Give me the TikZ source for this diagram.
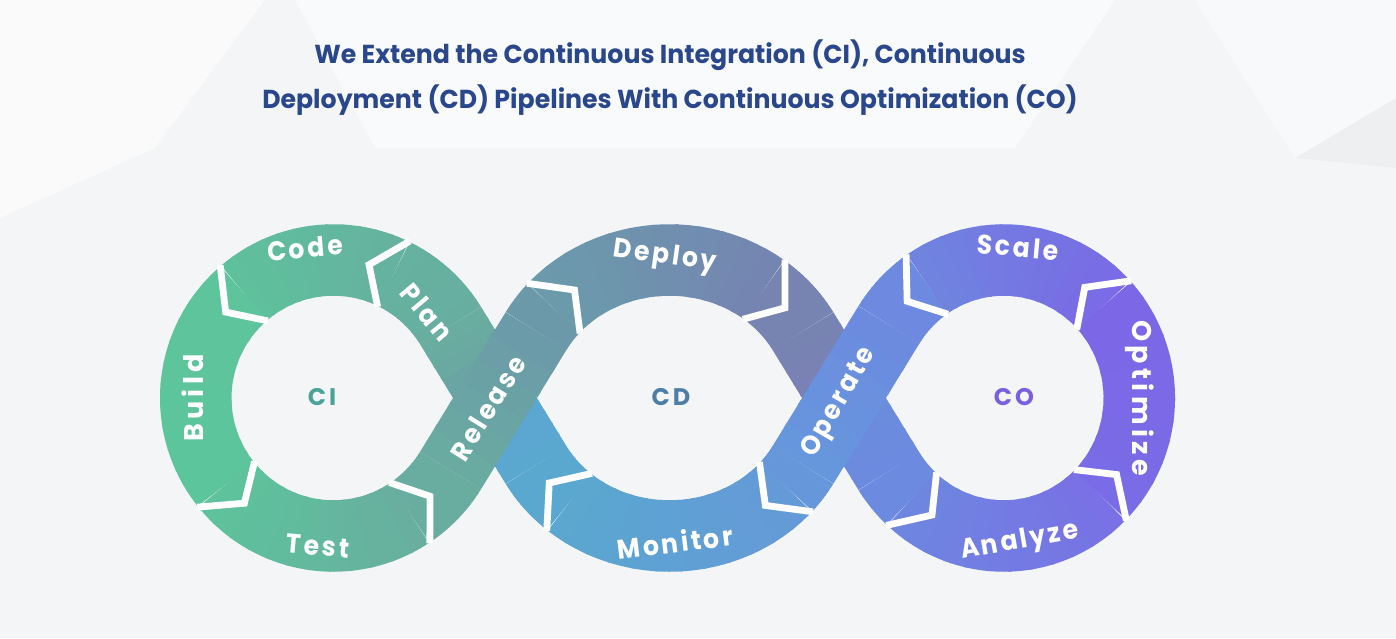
\documentclass[tikz,border=0pt]{standalone}
\usepackage{fontspec}
\setmainfont{Lato}
\newfontfamily\titlefont{Poppins}[FakeStretch=0.97]
\newfontfamily\labelfont{Poppins}[FakeStretch=0.93,LetterSpace=10]
\newfontfamily\labelfontv{Poppins}[LetterSpace=16]
\newfontfamily\hubfont{Poppins}[LetterSpace=12]
\definecolor{bgc}{HTML}{F4F5F7}
\definecolor{titleC}{HTML}{29478A}
\definecolor{ciC}{HTML}{4AA396}
\definecolor{cdC}{HTML}{4E7EA5}
\definecolor{coC}{HTML}{7A5FE0}
\definecolor{planA}{HTML}{6E9FA6}\definecolor{planB}{HTML}{67AEA0}
\definecolor{codeA}{HTML}{66B1A0}\definecolor{codeB}{HTML}{5EC19C}
\definecolor{buildA}{HTML}{5DC49C}\definecolor{buildB}{HTML}{5CC59B}
\definecolor{testA}{HTML}{5DC49C}\definecolor{testB}{HTML}{68AE9F}
\definecolor{relA}{HTML}{69ACA0}\definecolor{relB}{HTML}{6B99A9}
\definecolor{depA}{HTML}{6A9CAA}\definecolor{depB}{HTML}{7584B2}
\definecolor{darkA}{HTML}{7784B2}\definecolor{darkB}{HTML}{7C7EB5}
\definecolor{dkbA}{HTML}{6A8EDC}\definecolor{dkbB}{HTML}{6C8ADF}
\definecolor{anA}{HTML}{6E87E0}\definecolor{anB}{HTML}{7970E5}
\definecolor{optA}{HTML}{7A6BE6}\definecolor{optB}{HTML}{7C67E7}
\definecolor{scA}{HTML}{7B6AE6}\definecolor{scB}{HTML}{6F84DF}
\definecolor{opA}{HTML}{6D8AE0}\definecolor{opB}{HTML}{6597DA}
\definecolor{monA}{HTML}{6599D8}\definecolor{monB}{HTML}{5AA7D0}
\definecolor{linkA}{HTML}{5AA7D0}\definecolor{linkB}{HTML}{5CA6D2}
\def\nseg{12}
% band along ellipse (#1,0),#2,#3 from angle #4 to #5, colour #6 to #7
\newcommand{\arcband}[7]{%
  \foreach \i in {1,...,\nseg}{%
    \pgfmathsetmacro{\ta}{#4+(#5-#4)*(\i-1)/\nseg}%
    \pgfmathsetmacro{\tb}{#4+(#5-#4)*min(\i+0.2,\nseg)/\nseg}%
    \pgfmathtruncatemacro{\pc}{100-100*(\i-0.5)/\nseg}%
    \draw[band,#6!\pc!#7] plot[domain=\ta:\tb,samples=5,variable=\t]({#1+#2*cos(\t)},{#3*sin(\t)});}}
% straight band from (#1,#2) to (#3,#4)
\newcommand{\lineband}[6]{%
  \foreach \i in {1,...,6}{%
    \pgfmathsetmacro{\sa}{(\i-1)/6}%
    \pgfmathsetmacro{\sb}{min(\i+0.2,6)/6}%
    \pgfmathtruncatemacro{\pc}{100-100*(\i-0.5)/6}%
    \draw[band,#5!\pc!#6] ({#1+(#3-#1)*\sa},{#2+(#4-#2)*\sa}) -- ({#1+(#3-#1)*\sb},{#2+(#4-#2)*\sb});}}
% chevron cut at angle #4, tip turned by #5
\newcommand{\cut}[5]{%
  \pgfmathsetmacro{\na}{atan2(#2*sin(#4),#3*cos(#4))}%
  \pgfmathsetmacro{\qx}{#1+#2*cos(#4)}\pgfmathsetmacro{\qy}{#3*sin(#4)}%
  \draw[gap] ({\qx+36.6*cos(\na)},{\qy+36.6*sin(\na)}) -- ({#1+#2*cos(#4+(#5))},{#3*sin(#4+(#5))}) -- ({\qx-36.6*cos(\na)},{\qy-36.6*sin(\na)});}
\begin{document}
\begin{tikzpicture}[x=0.5pt,y=0.5pt,
  band/.style={line width=35.75pt,line cap=butt},
  gap/.style={draw=white,line width=3.4pt,miter limit=10},
  lab/.style={text=white,font=\labelfont\bfseries\fontsize{13.5}{14}\selectfont,inner sep=0pt},
  labv/.style={text=white,font=\labelfontv\bfseries\fontsize{13.5}{14}\selectfont,inner sep=0pt},
  hub/.style={font=\hubfont\bfseries\fontsize{12}{12}\selectfont,inner sep=0pt},
  heading/.style={text=titleC,font=\titlefont\bfseries\fontsize{13}{22.5}\selectfont,align=center}]
\useasboundingbox (-495,-240) rectangle (901,398);
\fill[bgc] (-495,-240) rectangle (901,398);
% faint facets of the backdrop
\fill[white,opacity=.55] (-495,398) -- (-230,398) -- (-340,250) -- (-495,180) -- cycle;
\fill[white,opacity=.5] (-200,398) -- (620,398) -- (520,250) -- (-120,250) -- cycle;
\fill[white,opacity=.45] (700,398) -- (901,398) -- (901,300) -- (800,240) -- cycle;
\fill[black,opacity=.025] (800,240) -- (901,300) -- (901,230) -- cycle;
% strands that run under the crossings
\arcband{174.5}{152.6}{138}{229}{209.02}{linkA}{linkA}
\lineband{41.05}{-66.94}{0}{0}{linkA}{linkB}
\lineband{0}{0}{-44.35}{72.30}{planA}{planB}
\arcband{-161.6}{137.65}{138}{31.59}{64}{planB}{codeA}
\arcband{174.5}{152.6}{138}{51.8}{29.02}{darkA}{darkA}
\lineband{307.95}{66.94}{349}{0}{darkA}{darkB}
\lineband{349}{0}{393.9}{-73.17}{dkbA}{dkbB}
\arcband{508.8}{135.5}{138}{212.02}{227}{dkbB}{dkbB}
% ring pieces
\arcband{-161.6}{137.65}{138}{64}{130.5}{codeA}{codeB}
\arcband{-161.6}{137.65}{138}{130.5}{218.7}{buildA}{buildB}
\arcband{-161.6}{137.65}{138}{218.7}{303.6}{testA}{testB}
\arcband{174.5}{152.6}{138}{139.5}{51.8}{depA}{depB}
\arcband{174.5}{152.6}{138}{319.9}{229}{monA}{monB}
\arcband{508.8}{135.5}{138}{227}{315.3}{anA}{anB}
\arcband{508.8}{135.5}{138}{315.3}{402.3}{optA}{optB}
\arcband{508.8}{135.5}{138}{42.3}{124.5}{scA}{scB}
% strands on top
\arcband{-161.6}{137.65}{138}{303.6}{328.41}{relA}{relA}
\lineband{-44.35}{-72.30}{41.05}{66.94}{relA}{relB}
\arcband{174.5}{152.6}{138}{150.98}{139.5}{relB}{relB}
\arcband{508.8}{135.5}{138}{124.5}{147.98}{opA}{opA}
\lineband{393.9}{73.17}{307.95}{-66.94}{opA}{opB}
\arcband{174.5}{152.6}{138}{330.98}{319.9}{opB}{opB}
% chevron cuts between the stages
\foreach \a in {64,130.5,218.7,303.6} {\cut{-161.6}{137.65}{138}{\a}{11}}
\foreach \a in {139.5,51.8,319.9,229} {\cut{174.5}{152.6}{138}{\a}{-11}}
\foreach \a in {227,315.3,42.3,124.5} {\cut{508.8}{135.5}{138}{\a}{11}}
% labels
\node[lab,rotate=5] (code) at (-190,150) {Code};
\node[lab,rotate=-50] (plan) at (-68,86) {Plan};
\node[labv,rotate=90] (build) at (-302,0) {Build};
\node[lab,rotate=-5] (test) at (-177,-148) {Test};
\node[lab,rotate=58] (release) at (-7,-10) {Release};
\node[lab,rotate=-8] (deploy) at (170,141) {Deploy};
\node[lab,rotate=7] (monitor) at (180,-144) {Monitor};
\node[lab,rotate=60] (operate) at (345,-5) {Operate};
\node[lab,rotate=-5] (scale) at (523,151) {Scale};
\node[labv,rotate=-90] (optimize) at (645,0) {Optimize};
\node[lab,rotate=10] (analyze) at (525,-144) {Analyze};
\node[hub,text=ciC] (ci) at (-173,1) {CI};
\node[hub,text=cdC] (cd) at (176,1) {CD};
\node[hub,text=coC] (co) at (519,1) {CO};
\node[heading] (title) at (175,320.5) {We Extend the Continuous Integration (CI), Continuous\\Deployment (CD) Pipelines With Continuous Optimization (CO)};
\end{tikzpicture}
\end{document}
